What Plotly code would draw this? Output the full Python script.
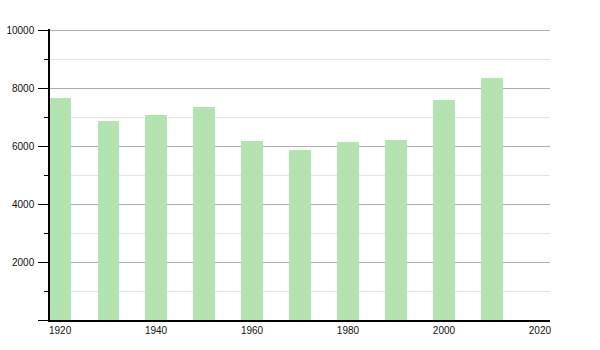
import plotly.graph_objects as go

years = [1920, 1930, 1940, 1950, 1960, 1970, 1980, 1990, 2000, 2010]
population = [7660, 6880, 7080, 7360, 6180, 5870, 6150, 6220, 7620, 8360]

y_tick_values = [0, 2000, 4000, 6000, 8000, 10000]
y_tick_labels = ["", "2000", "4000", "6000", "8000", "10000"]
x_tick_values = [1920, 1940, 1960, 1980, 2000, 2020]

fig = go.Figure()
fig.add_trace(go.Bar(
    x=years, y=population, width=4.4,
    marker=dict(color="#b2e3b0", line=dict(width=0)),
    hoverinfo="x+y",
))

fig.update_layout(
    width=600, height=350,
    margin=dict(l=50, r=50, t=29, b=30, autoexpand=False),
    paper_bgcolor="white", plot_bgcolor="white",
    font=dict(family="Liberation Sans, Arial, sans-serif", size=10, color="#111"),
    showlegend=False,
    bargap=0,
)
fig.update_xaxes(
    range=[1917.9, 2022.1],
    tickmode="array", tickvals=x_tick_values,
    ticks="", showgrid=False, zeroline=False,
    showline=True, linecolor="black", linewidth=1.5,
    ticklabelstandoff=0, automargin=False,
)
fig.update_yaxes(
    range=[0, 10060],
    tickmode="array", tickvals=y_tick_values, ticktext=y_tick_labels,
    ticks="outside", ticklen=10, tickcolor="black", tickwidth=1,
    showgrid=True, gridcolor="#ababab", gridwidth=1,
    zeroline=False,
    showline=True, linecolor="black", linewidth=1.5,
    minor=dict(dtick=1000, ticks="outside", ticklen=4, tickcolor="black",
               showgrid=True, gridcolor="#e4e4e4", gridwidth=1),
    ticklabelstandoff=2, automargin=False,
)

fig.write_html("out.html")
